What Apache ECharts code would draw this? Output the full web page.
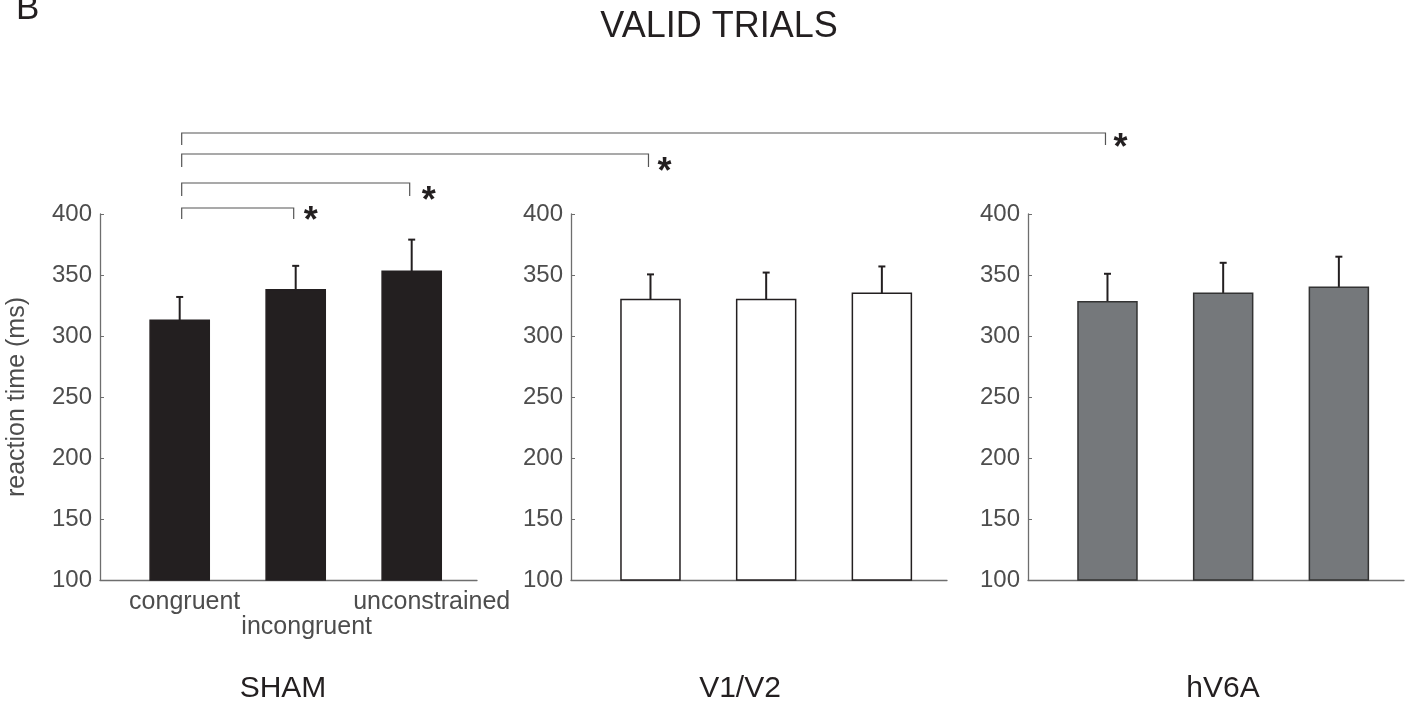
<!DOCTYPE html>
<html>
<head>
<meta charset="utf-8">
<script src="https://cdn.jsdelivr.net/npm/echarts@6/dist/echarts.min.js"></script>
<style>
html,body{margin:0;padding:0;background:#fff;}
#chart{width:1406px;height:710px;}
</style>
</head>
<body>
<div id="chart"></div>
<script>
// ---------- data ----------
const categories = ['congruent', 'incongruent', 'unconstrained'];
const panelNames = ['SHAM', 'V1/V2', 'hV6A'];
const shamMeans = [313, 338, 353];
const shamErrors = [19, 19.5, 26];
const v1v2Means = [330, 330, 335];
const v1v2Errors = [20.5, 22, 22];
const hv6aMeans = [328, 335, 340];
const hv6aErrors = [23, 25, 25];
const yTicks = [100, 150, 200, 250, 300, 350, 400];
// significance brackets: [panel, bar] -> [panel, bar]
const brackets = [
  [[0, 0], [0, 1]],
  [[0, 0], [0, 2]],
  [[0, 0], [1, 0]],
  [[0, 0], [2, 0]]
];
const sigLabel = '*';

// ---------- styling ----------
const FONT = 'Liberation Sans, Arial, sans-serif';
const TEXT_GREY = '#4d4d4d';
const DARK = '#231f20';
const AXIS_GREY = '#6e6e6e';
const BAR_W = 0.51;
const panelFills = [DARK, '#ffffff', '#75787b'];
const panelStrokes = [DARK, DARK, '#333333'];
const grids = [
  {left: 100, top: 214, width: 377, height: 366},
  {left: 571, top: 214, width: 376, height: 366},
  {left: 1028, top: 214, width: 376, height: 366}
];
const X_MIN = 0.313, X_MAX = 3.563;

const allMeans = [shamMeans, v1v2Means, hv6aMeans];
const allErrors = [shamErrors, v1v2Errors, hv6aErrors];

const chart = echarts.init(document.getElementById('chart'), null, {renderer: 'canvas'});

function makeRender(p) {
  return function (params, api) {
    const x = api.value(0), m = api.value(1), e = api.value(2);
    const base = api.coord([x, yTicks[0]]);
    const top = api.coord([x, m]);
    const et = api.coord([x, m + e]);
    const w = api.size([BAR_W, 0])[0];
    return {
      type: 'group',
      children: [
        {type: 'line', shape: {x1: top[0], y1: top[1], x2: et[0], y2: et[1]},
         style: {stroke: DARK, lineWidth: 2}},
        {type: 'line', shape: {x1: et[0] - 3.5, y1: et[1], x2: et[0] + 3.5, y2: et[1]},
         style: {stroke: DARK, lineWidth: 2}},
        {type: 'rect', shape: {x: base[0] - w / 2, y: top[1], width: w, height: base[1] - top[1]},
         style: {fill: panelFills[p], stroke: panelStrokes[p], lineWidth: 1.5}}
      ]
    };
  };
}

const xAxes = [], yAxes = [], series = [];
for (let p = 0; p < 3; p++) {
  xAxes.push({
    type: 'value', gridIndex: p, min: X_MIN, max: X_MAX,
    axisLine: {show: true, onZero: false, lineStyle: {color: AXIS_GREY, width: 1.3}},
    axisTick: {show: false}, axisLabel: {show: false}, splitLine: {show: false}
  });
  yAxes.push({
    type: 'value', gridIndex: p, min: yTicks[0], max: yTicks[yTicks.length - 1], interval: 50,
    axisLine: {show: true, lineStyle: {color: AXIS_GREY, width: 1.3}},
    axisTick: {show: true, inside: true, length: 4, lineStyle: {color: AXIS_GREY, width: 1}},
    axisLabel: {color: TEXT_GREY, fontSize: 24, fontFamily: FONT, margin: 8},
    splitLine: {show: false},
    name: p === 0 ? 'reaction time (ms)' : '',
    nameLocation: 'middle', nameRotate: 90, nameGap: 70,
    nameTextStyle: {color: TEXT_GREY, fontSize: 25, fontFamily: FONT}
  });
  series.push({
    type: 'custom', xAxisIndex: p, yAxisIndex: p,
    renderItem: makeRender(p),
    data: allMeans[p].map((m, i) => [i + 1, m, allErrors[p][i]]),
    clip: false, silent: true
  });
}

chart.setOption({
  animation: false,
  backgroundColor: '#ffffff',
  grid: grids,
  xAxis: xAxes,
  yAxis: yAxes,
  series: series
});

// ---------- annotations ----------
const g = [];
g.push({type: 'text', left: 16, top: -8, style: {text: 'B', fill: DARK, font: '35px ' + FONT}});
g.push({type: 'text', x: 719, y: 27, style: {text: 'VALID TRIALS', fill: DARK, font: '36px ' + FONT,
  textAlign: 'center', textVerticalAlign: 'middle'}});

// category labels under SHAM panel
const catOffsets = [[5, 22], [11, 47], [20, 22]];
categories.forEach((c, i) => {
  const pt = chart.convertToPixel({gridIndex: 0}, [i + 1, yTicks[0]]);
  g.push({type: 'text', x: pt[0] + catOffsets[i][0], y: pt[1] + catOffsets[i][1],
    style: {text: c, fill: TEXT_GREY, font: '25px ' + FONT, textAlign: 'center', textVerticalAlign: 'middle'}});
});

// panel names
const panelNameX = [283, 740, 1223];
panelNames.forEach((n, i) => {
  g.push({type: 'text', x: panelNameX[i], y: 689,
    style: {text: n, fill: DARK, font: '30px ' + FONT, textAlign: 'center', textVerticalAlign: 'middle'}});
});

// brackets
const bracketY = [208, 183, 154, 133];
const tickLen = [11, 13, 13, 12];
const starDx = [17, 19, 16, 15];
const starDy = [5, 10, 10, 7];
brackets.forEach((b, k) => {
  const a = chart.convertToPixel({gridIndex: b[0][0]}, [b[0][1] + 1, yTicks[0]]);
  const c = chart.convertToPixel({gridIndex: b[1][0]}, [b[1][1] + 1, yTicks[0]]);
  const x1 = a[0] + 2, x2 = c[0] - 2, y = bracketY[k];
  g.push({type: 'polyline', shape: {points: [[x1, y + tickLen[k]], [x1, y], [x2, y], [x2, y + tickLen[k]]]},
    style: {stroke: '#555555', lineWidth: 1.2, fill: null}});
  g.push({type: 'text', x: x2 + starDx[k], y: y + starDy[k] + 9,
    style: {text: sigLabel, fill: DARK, font: 'bold 36px ' + FONT, textAlign: 'center', textVerticalAlign: 'middle'}});
});

chart.setOption({graphic: g});
</script>
</body>
</html>
